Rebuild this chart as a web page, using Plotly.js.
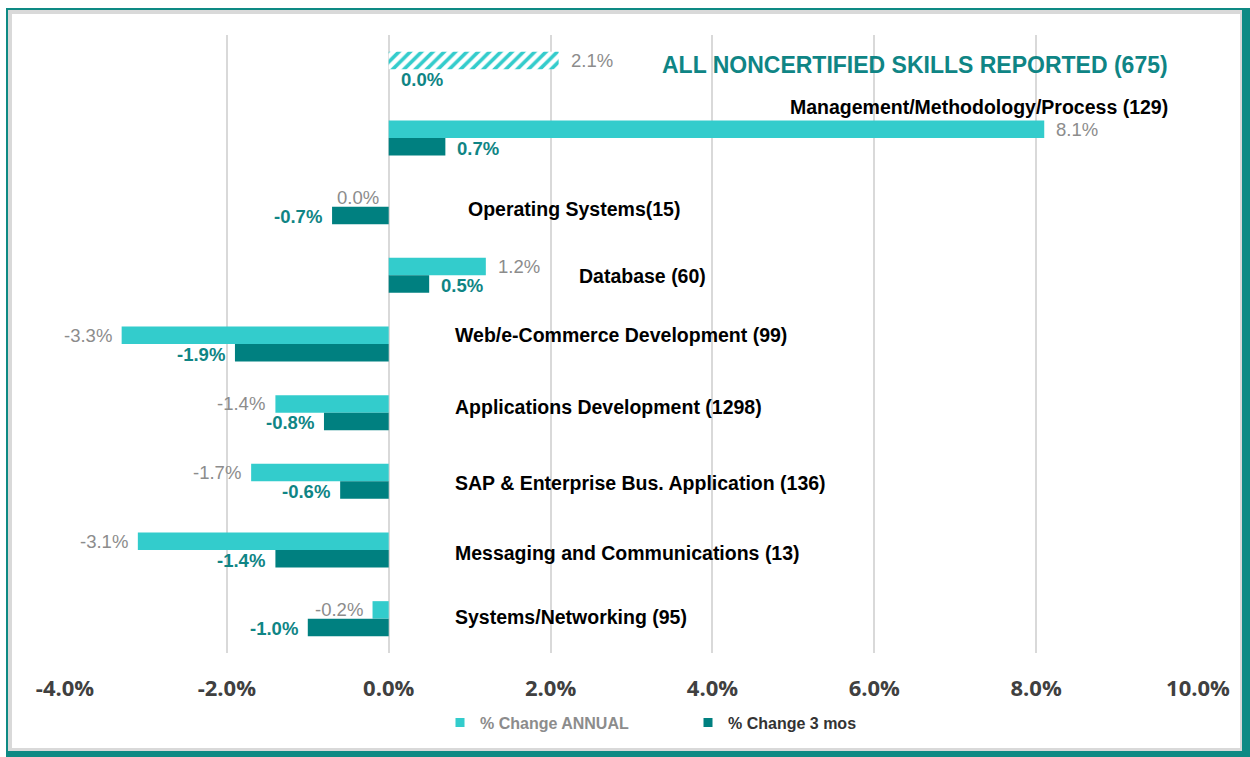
<!DOCTYPE html>
<html>
<head>
<meta charset="utf-8">
<script src="https://cdn.plot.ly/plotly-3.0.1.min.js"></script>
<style>
html,body{margin:0;padding:0;background:#fff;}
#chart{width:1250px;height:757px;}
</style>
</head>
<body>
<div id="chart"></div>
<script>
const categories = [
  "ALL NONCERTIFIED SKILLS REPORTED (675)",
  "Management/Methodology/Process (129)",
  "Operating Systems(15)",
  "Database (60)",
  "Web/e-Commerce Development (99)",
  "Applications Development (1298)",
  "SAP & Enterprise Bus. Application (136)",
  "Messaging and Communications (13)",
  "Systems/Networking (95)"
];
const annualChange = [2.1, 8.1, 0.0, 1.2, -3.3, -1.4, -1.7, -3.1, -0.2];
const threeMonthChange = [0.0, 0.7, -0.7, 0.5, -1.9, -0.8, -0.6, -1.4, -1.0];
const seriesNames = ["% Change ANNUAL", "% Change 3 mos"];
const tickValues = [-4, -2, 0, 2, 4, 6, 8, 10];
const tickLabels = ["-4.0%", "-2.0%", "0.0%", "2.0%", "4.0%", "6.0%", "8.0%", "10.0%"];

const cLight = "#33CCCC", cDark = "#008080";
const fontFam = "Liberation Sans, Arial, sans-serif";

const annualTrace = {
  type: "bar", orientation: "h", showlegend: false,
  name: seriesNames[0],
  y: categories, x: annualChange,
  marker: {
    color: cLight,
    pattern: {
      shape: categories.map((c, i) => i === 0 ? "/" : ""),
      fgcolor: categories.map(() => cLight),
      bgcolor: categories.map(() => "#ffffff"),
      size: 8, solidity: 0.45, fillmode: "replace"
    },
    line: {width: 0}
  },
  hoverinfo: "x+y"
};
const threeTrace = {
  type: "bar", orientation: "h", showlegend: false,
  name: seriesNames[1],
  y: categories, x: threeMonthChange,
  marker: {color: cDark, line: {width: 0}},
  hoverinfo: "x+y"
};
// legend entries (solid squares, as in the original legend)
const legendAnnual = {
  type: "scatter", mode: "markers", x: [null], y: [null],
  name: '<span style="color:#8c8c8c"><b>' + seriesNames[0] + '</b></span>',
  marker: {symbol: "square", size: 9, color: cLight}
};
const legendThree = {
  type: "scatter", mode: "markers", x: [null], y: [null],
  name: '<span style="color:#333333"><b>' + seriesNames[1] + '</b></span>',
  marker: {symbol: "square", size: 9, color: cDark}
};

// value labels
const annotations = [];
categories.forEach((c, i) => {
  const pairs = [
    {v: annualChange[i], other: threeMonthChange[i], shiftY: 9, color: "#8c8c8c", bold: false},
    {v: threeMonthChange[i], other: annualChange[i], shiftY: -10, color: "#0f8585", bold: true}
  ];
  pairs.forEach(p => {
    const right = p.v > 0 || (p.v === 0 && p.other >= 0);
    const txt = p.v.toFixed(1) + "%";
    annotations.push({
      x: p.v, y: c, xref: "x", yref: "y",
      text: p.bold ? "<b>" + txt + "</b>" : txt,
      showarrow: false,
      xanchor: right ? "left" : "right",
      xshift: right ? 10 : -8,
      yshift: p.shiftY,
      font: {family: fontFam, size: 18.5, color: p.color}
    });
  });
});

// category labels (positions/anchors per label)
const labelPlacement = [
  {x: 9.65, anchor: "right", dy: 4, color: "#0f8585", size: 23},
  {x: 9.65, anchor: "right", dy: 31, color: "#000", size: 19.5},
  {x: 0.96, anchor: "left", dy: -2, color: "#000", size: 19.5},
  {x: 2.33, anchor: "left", dy: -1, color: "#000", size: 19.5},
  {x: 0.79, anchor: "left", dy: 9, color: "#000", size: 19.5},
  {x: 0.79, anchor: "left", dy: 6, color: "#000", size: 19.5},
  {x: 0.79, anchor: "left", dy: -2, color: "#000", size: 19.5},
  {x: 0.79, anchor: "left", dy: -3, color: "#000", size: 19.5},
  {x: 0.79, anchor: "left", dy: 2, color: "#000", size: 19.5}
];
categories.forEach((c, i) => {
  const p = labelPlacement[i];
  annotations.push({
    x: p.x, y: c, xref: "x", yref: "y",
    text: "<b>" + c.replace(/&/g, "&amp;") + "</b>",
    showarrow: false, xanchor: p.anchor, yshift: p.dy,
    font: {family: fontFam, size: p.size, color: p.color}
  });
});

// frame in paper coords
const L = 65, R = 52, T = 35, B = 104, W = 1250, H = 757;
const pw = W - L - R, ph = H - T - B;
const px = v => (v - L) / pw;
const py = v => (H - B - v) / ph;
const rect = (x0, y0, x1, y1, color) => ({
  type: "rect", xref: "paper", yref: "paper", layer: "below",
  x0: px(x0), x1: px(x1), y0: py(y1), y1: py(y0),
  fillcolor: color, line: {width: 0}
});
const shapes = [
  rect(6, 8, 1251, 758, "#0e8a84"),
  rect(8, 10, 1242, 751, "#d9d9d9"),
  rect(12, 14, 1240, 748, "#ffffff")
];

const layout = {
  width: W, height: H,
  margin: {l: L, r: R, t: T, b: B, pad: 0},
  paper_bgcolor: "#ffffff",
  plot_bgcolor: "rgba(0,0,0,0)",
  barmode: "group", bargap: 0.49, bargroupgap: 0,
  showlegend: true,
  legend: {
    orientation: "h", x: px(440), xanchor: "left", y: -0.085, yanchor: "top",
    font: {family: fontFam, size: 16, color: "#333"},
    itemwidth: 30, entrywidth: 203, entrywidthmode: "pixels",
    traceorder: "normal", bgcolor: "rgba(0,0,0,0)"
  },
  xaxis: {
    range: [-4, 10], tickvals: tickValues, ticktext: tickLabels,
    showgrid: true, gridcolor: "#d9d9d9", gridwidth: 2,
    zeroline: true, zerolinecolor: "#d9d9d9", zerolinewidth: 2,
    showline: false, ticks: "",
    ticklabelstandoff: 20,
    tickfont: {family: "Open Sans, sans-serif", size: 22, color: "#404040", weight: "bold"},
    fixedrange: true
  },
  yaxis: {
    type: "category", autorange: "reversed",
    showticklabels: false, showgrid: false, zeroline: false, showline: false, ticks: "",
    fixedrange: true
  },
  annotations: annotations,
  shapes: shapes,
  font: {family: fontFam}
};

Plotly.newPlot("chart", [annualTrace, threeTrace, legendAnnual, legendThree], layout, {displayModeBar: false, staticPlot: true});
</script>
</body>
</html>
